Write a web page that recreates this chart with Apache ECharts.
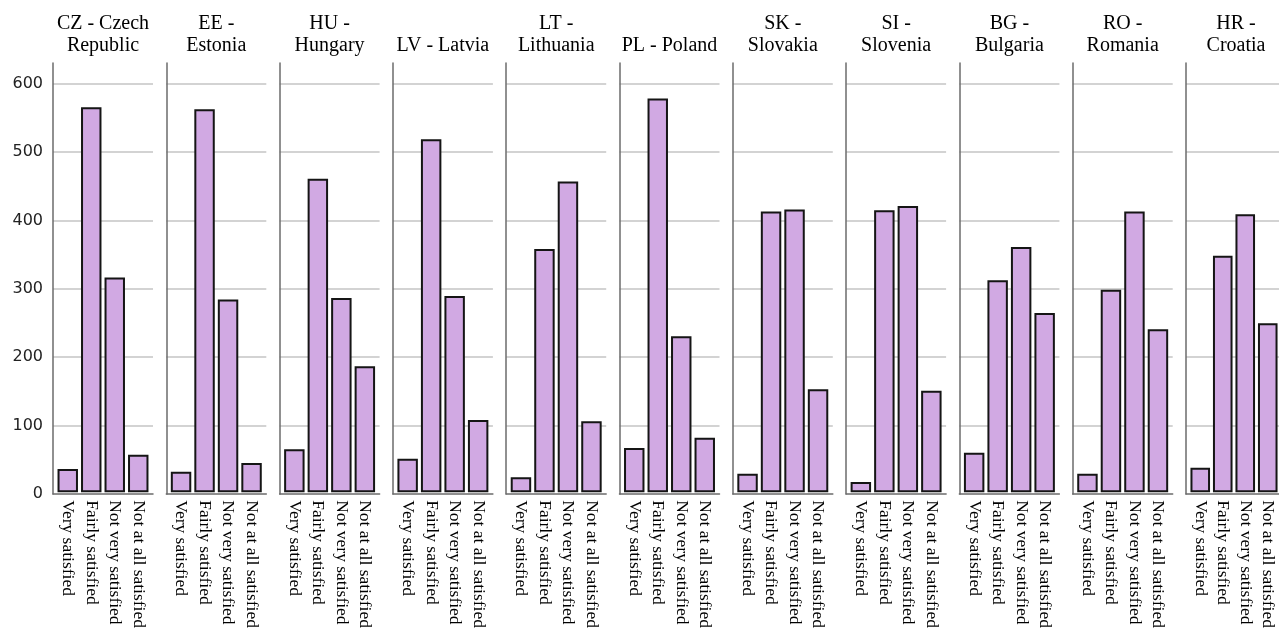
<!DOCTYPE html>
<html>
<head>
<meta charset="utf-8">
<script src="https://cdn.jsdelivr.net/npm/echarts@6/dist/echarts.min.js"></script>
<style>
html,body{margin:0;padding:0;background:#fff;}
#chart{width:1279px;height:631px;}
</style>
</head>
<body>
<div id="chart"></div>
<script>
const categories = ['Very satisfied', 'Fairly satisfied', 'Not very satisfied', 'Not at all satisfied'];
const countries = ['CZ - Czech\nRepublic', 'EE -\nEstonia', 'HU -\nHungary', 'LV - Latvia', 'LT -\nLithuania', 'PL - Poland', 'SK -\nSlovakia', 'SI -\nSlovenia', 'BG -\nBulgaria', 'RO -\nRomania', 'HR -\nCroatia'];
const yTicks = [0, 100, 200, 300, 400, 500, 600];

const czValues = [34, 565, 315, 55];
const eeValues = [30, 562, 283, 43];
const huValues = [63, 460, 285, 185];
const lvValues = [49, 518, 288, 106];
const ltValues = [22, 357, 456, 104];
const plValues = [65, 578, 229, 80];
const skValues = [27, 412, 415, 151];
const siValues = [15, 414, 420, 149];
const bgValues = [58, 311, 360, 263];
const roValues = [27, 297, 412, 239];
const hrValues = [36, 347, 408, 248];
const allValues = [czValues, eeValues, huValues, lvValues, ltValues, plValues, skValues, siValues, bgValues, roValues, hrValues];

const yMax = 630;
const panelStart = 53, panelStep = 113.3, panelWidth = 100, inset = 3;
const gridTop = 63, gridBottom = 137;

const grids = [], xAxes = [], yAxes = [], series = [], titles = [];
countries.forEach((name, i) => {
  const left = panelStart + i * panelStep;
  grids.push({left: left, top: gridTop, width: panelWidth, bottom: gridBottom});
  grids.push({left: left + inset, top: gridTop, width: panelWidth - 2 * inset, bottom: gridBottom});
  const gA = 2 * i, gB = 2 * i + 1;
  xAxes.push({
    type: 'category', gridIndex: gA, data: categories,
    axisLine: {show: true, lineStyle: {color: '#6b6b6b', width: 1.5}},
    axisTick: {show: false}, axisLabel: {show: false}, splitLine: {show: false}
  });
  xAxes.push({
    type: 'category', gridIndex: gB, data: categories,
    axisLine: {show: false}, axisTick: {show: false},
    axisLabel: {
      show: true, interval: 0, rotate: -90, margin: 8,
      fontFamily: 'Liberation Serif', fontSize: 17.5, color: '#000'
    }
  });
  yAxes.push({
    type: 'value', gridIndex: gA, min: 0, max: yMax, interval: 100,
    axisLine: {show: true, lineStyle: {color: '#6b6b6b', width: 1.5}},
    axisTick: {show: false},
    axisLabel: {
      show: i === 0, showMaxLabel: false, margin: 10,
      fontFamily: 'DejaVu Sans', fontSize: 16, color: '#222',
      formatter: v => (yTicks.indexOf(v) >= 0 ? String(v) : '')
    },
    splitLine: {show: true, showMaxLine: false, showMinLine: false, lineStyle: {color: '#c4c4c4', width: 1.5}}
  });
  yAxes.push({
    type: 'value', gridIndex: gB, min: 0, max: yMax, interval: 100, show: false,
    splitLine: {show: false}
  });
  series.push({
    type: 'bar', xAxisIndex: gB, yAxisIndex: gB, data: allValues[i],
    barCategoryGap: '13%',
    itemStyle: {color: '#d1a9e3', borderColor: '#151515', borderWidth: 2},
    silent: true, z: 3
  });
  titles.push({
    text: name, left: left + panelWidth / 2, bottom: 631 - 57, textAlign: 'center', padding: 0,
    textStyle: {fontFamily: 'Liberation Serif', fontSize: 20, fontWeight: 'normal', color: '#000', lineHeight: 22}
  });
});

const chart = echarts.init(document.getElementById('chart'), null, {renderer: 'canvas'});
chart.setOption({
  animation: false,
  backgroundColor: '#fff',
  title: titles,
  grid: grids,
  xAxis: xAxes,
  yAxis: yAxes,
  series: series
});
</script>
</body>
</html>
